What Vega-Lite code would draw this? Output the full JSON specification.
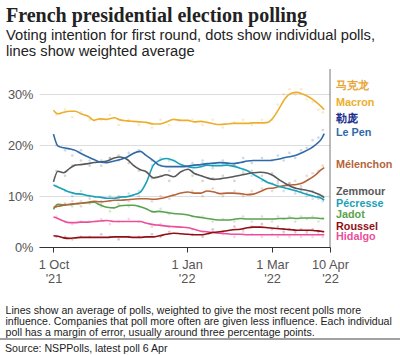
{
  "$schema": "https://vega.github.io/schema/vega-lite/v6.json",
  "width": 291,
  "height": 178,
  "autosize": {"type": "none"},
  "padding": {"left": 39, "top": 69, "right": 70, "bottom": 108},
  "background": "white",
  "title": {
    "text": "French presidential election polling",
    "subtitle": ["Voting intention for first round, dots show individual polls,", "lines show weighted average"],
    "anchor": "start",
    "frame": "group",
    "dx": -33,
    "offset": 10,
    "font": "Liberation Serif",
    "fontSize": 20,
    "fontWeight": "bold",
    "color": "#222222",
    "subtitleFont": "Liberation Sans",
    "subtitleFontSize": 14.7,
    "subtitleColor": "#222222",
    "subtitleLineHeight": 15.5,
    "subtitlePadding": 2
  },
  "datasets": {
    "avg": [
      {"d": "2021-10-01", "Macron": 26.9, "Le Pen": 22.2, "Zemmour": 12.8, "Pécresse": 12.2, "Mélenchon": 7.8, "Jadot": 7.4, "Roussel": 2.2, "Hidalgo": 5.9},
      {"d": "2021-10-04", "Macron": 26.2, "Le Pen": 19.9, "Zemmour": 14.9, "Pécresse": 11.8, "Mélenchon": 8.0, "Jadot": 8.4, "Roussel": 2.1, "Hidalgo": 5.6},
      {"d": "2021-10-08", "Macron": 26.5, "Le Pen": 19.5, "Zemmour": 14.6, "Pécresse": 11.3, "Mélenchon": 8.2, "Jadot": 8.3, "Roussel": 1.8, "Hidalgo": 5.1},
      {"d": "2021-10-12", "Macron": 26.7, "Le Pen": 19.3, "Zemmour": 15.4, "Pécresse": 10.8, "Mélenchon": 8.4, "Jadot": 8.3, "Roussel": 1.7, "Hidalgo": 4.8},
      {"d": "2021-10-16", "Macron": 26.7, "Le Pen": 19.0, "Zemmour": 16.1, "Pécresse": 10.5, "Mélenchon": 8.5, "Jadot": 8.5, "Roussel": 1.8, "Hidalgo": 4.8},
      {"d": "2021-10-20", "Macron": 26.2, "Le Pen": 18.4, "Zemmour": 16.2, "Pécresse": 10.4, "Mélenchon": 8.6, "Jadot": 8.6, "Roussel": 1.9, "Hidalgo": 4.9},
      {"d": "2021-10-25", "Macron": 25.7, "Le Pen": 17.7, "Zemmour": 16.4, "Pécresse": 10.1, "Mélenchon": 8.8, "Jadot": 8.7, "Roussel": 1.9, "Hidalgo": 4.9},
      {"d": "2021-10-29", "Macron": 24.9, "Le Pen": 17.2, "Zemmour": 16.6, "Pécresse": 9.9, "Mélenchon": 9.0, "Jadot": 8.8, "Roussel": 1.9, "Hidalgo": 5.0},
      {"d": "2021-11-02", "Macron": 25.2, "Le Pen": 16.7, "Zemmour": 16.7, "Pécresse": 9.8, "Mélenchon": 8.9, "Jadot": 8.3, "Roussel": 1.9, "Hidalgo": 5.1},
      {"d": "2021-11-07", "Macron": 25.1, "Le Pen": 16.6, "Zemmour": 16.9, "Pécresse": 9.6, "Mélenchon": 9.0, "Jadot": 7.8, "Roussel": 1.9, "Hidalgo": 5.2},
      {"d": "2021-11-12", "Macron": 25.4, "Le Pen": 16.9, "Zemmour": 17.5, "Pécresse": 9.6, "Mélenchon": 9.2, "Jadot": 7.7, "Roussel": 2.0, "Hidalgo": 5.0},
      {"d": "2021-11-16", "Macron": 25.0, "Le Pen": 17.2, "Zemmour": 17.7, "Pécresse": 9.8, "Mélenchon": 9.2, "Jadot": 8.1, "Roussel": 2.0, "Hidalgo": 5.0},
      {"d": "2021-11-21", "Macron": 24.8, "Le Pen": 17.7, "Zemmour": 17.2, "Pécresse": 9.9, "Mélenchon": 9.3, "Jadot": 8.2, "Roussel": 2.0, "Hidalgo": 5.0},
      {"d": "2021-11-25", "Macron": 24.7, "Le Pen": 18.4, "Zemmour": 16.1, "Pécresse": 10.2, "Mélenchon": 9.4, "Jadot": 8.2, "Roussel": 1.9, "Hidalgo": 5.0},
      {"d": "2021-11-30", "Macron": 24.6, "Le Pen": 18.8, "Zemmour": 15.2, "Pécresse": 10.8, "Mélenchon": 9.5, "Jadot": 7.9, "Roussel": 1.9, "Hidalgo": 5.0},
      {"d": "2021-12-04", "Macron": 24.5, "Le Pen": 18.0, "Zemmour": 14.8, "Pécresse": 12.6, "Mélenchon": 9.5, "Jadot": 7.5, "Roussel": 2.0, "Hidalgo": 4.7},
      {"d": "2021-12-09", "Macron": 24.2, "Le Pen": 17.0, "Zemmour": 13.6, "Pécresse": 16.1, "Mélenchon": 9.4, "Jadot": 6.9, "Roussel": 2.0, "Hidalgo": 4.4},
      {"d": "2021-12-13", "Macron": 24.2, "Le Pen": 16.1, "Zemmour": 13.8, "Pécresse": 17.0, "Mélenchon": 9.5, "Jadot": 7.0, "Roussel": 2.2, "Hidalgo": 4.3},
      {"d": "2021-12-18", "Macron": 24.6, "Le Pen": 15.8, "Zemmour": 14.2, "Pécresse": 17.4, "Mélenchon": 9.8, "Jadot": 6.8, "Roussel": 2.5, "Hidalgo": 4.1},
      {"d": "2021-12-23", "Macron": 25.1, "Le Pen": 15.8, "Zemmour": 13.8, "Pécresse": 17.0, "Mélenchon": 10.2, "Jadot": 6.6, "Roussel": 2.7, "Hidalgo": 4.0},
      {"d": "2021-12-28", "Macron": 24.9, "Le Pen": 15.8, "Zemmour": 14.8, "Pécresse": 16.2, "Mélenchon": 10.6, "Jadot": 6.5, "Roussel": 2.6, "Hidalgo": 3.9},
      {"d": "2022-01-02", "Macron": 24.9, "Le Pen": 15.9, "Zemmour": 15.3, "Pécresse": 15.8, "Mélenchon": 10.8, "Jadot": 6.3, "Roussel": 2.5, "Hidalgo": 3.8},
      {"d": "2022-01-06", "Macron": 24.6, "Le Pen": 16.1, "Zemmour": 14.5, "Pécresse": 15.6, "Mélenchon": 10.6, "Jadot": 6.0, "Roussel": 2.4, "Hidalgo": 3.5},
      {"d": "2022-01-11", "Macron": 24.7, "Le Pen": 16.2, "Zemmour": 14.0, "Pécresse": 15.8, "Mélenchon": 10.6, "Jadot": 5.8, "Roussel": 2.4, "Hidalgo": 3.1},
      {"d": "2022-01-15", "Macron": 24.5, "Le Pen": 16.4, "Zemmour": 13.6, "Pécresse": 16.1, "Mélenchon": 11.0, "Jadot": 5.6, "Roussel": 2.6, "Hidalgo": 3.0},
      {"d": "2022-01-20", "Macron": 24.2, "Le Pen": 16.5, "Zemmour": 13.3, "Pécresse": 16.0, "Mélenchon": 10.8, "Jadot": 5.4, "Roussel": 2.9, "Hidalgo": 2.8},
      {"d": "2022-01-24", "Macron": 24.1, "Le Pen": 16.6, "Zemmour": 13.4, "Pécresse": 16.0, "Mélenchon": 10.5, "Jadot": 5.3, "Roussel": 3.0, "Hidalgo": 2.7},
      {"d": "2022-01-29", "Macron": 24.2, "Le Pen": 16.5, "Zemmour": 13.6, "Pécresse": 16.1, "Mélenchon": 10.6, "Jadot": 5.3, "Roussel": 3.2, "Hidalgo": 2.6},
      {"d": "2022-02-02", "Macron": 24.3, "Le Pen": 16.4, "Zemmour": 13.8, "Pécresse": 15.9, "Mélenchon": 10.6, "Jadot": 5.4, "Roussel": 3.4, "Hidalgo": 2.5},
      {"d": "2022-02-07", "Macron": 24.3, "Le Pen": 16.6, "Zemmour": 14.1, "Pécresse": 15.5, "Mélenchon": 10.5, "Jadot": 5.6, "Roussel": 3.5, "Hidalgo": 2.5},
      {"d": "2022-02-12", "Macron": 24.3, "Le Pen": 16.9, "Zemmour": 14.4, "Pécresse": 15.0, "Mélenchon": 10.3, "Jadot": 5.5, "Roussel": 3.8, "Hidalgo": 2.4},
      {"d": "2022-02-16", "Macron": 24.4, "Le Pen": 17.0, "Zemmour": 14.6, "Pécresse": 14.3, "Mélenchon": 10.4, "Jadot": 5.5, "Roussel": 3.9, "Hidalgo": 2.4},
      {"d": "2022-02-21", "Macron": 24.4, "Le Pen": 17.0, "Zemmour": 14.7, "Pécresse": 13.5, "Mélenchon": 10.9, "Jadot": 5.5, "Roussel": 3.9, "Hidalgo": 2.4},
      {"d": "2022-02-26", "Macron": 24.5, "Le Pen": 17.0, "Zemmour": 14.5, "Pécresse": 12.7, "Mélenchon": 11.5, "Jadot": 5.5, "Roussel": 3.8, "Hidalgo": 2.4},
      {"d": "2022-03-02", "Macron": 25.5, "Le Pen": 17.1, "Zemmour": 14.0, "Pécresse": 12.3, "Mélenchon": 11.6, "Jadot": 5.5, "Roussel": 3.7, "Hidalgo": 2.4},
      {"d": "2022-03-06", "Macron": 27.3, "Le Pen": 17.3, "Zemmour": 13.2, "Pécresse": 11.9, "Mélenchon": 11.9, "Jadot": 5.6, "Roussel": 3.6, "Hidalgo": 2.4},
      {"d": "2022-03-10", "Macron": 29.2, "Le Pen": 17.6, "Zemmour": 12.5, "Pécresse": 11.6, "Mélenchon": 12.1, "Jadot": 5.6, "Roussel": 3.5, "Hidalgo": 2.4},
      {"d": "2022-03-14", "Macron": 30.2, "Le Pen": 17.8, "Zemmour": 11.9, "Pécresse": 11.3, "Mélenchon": 12.2, "Jadot": 5.7, "Roussel": 3.4, "Hidalgo": 2.4},
      {"d": "2022-03-18", "Macron": 30.4, "Le Pen": 18.1, "Zemmour": 11.5, "Pécresse": 11.0, "Mélenchon": 12.3, "Jadot": 5.6, "Roussel": 3.3, "Hidalgo": 2.4},
      {"d": "2022-03-22", "Macron": 30.1, "Le Pen": 18.6, "Zemmour": 11.3, "Pécresse": 10.6, "Mélenchon": 12.6, "Jadot": 5.7, "Roussel": 3.3, "Hidalgo": 2.4},
      {"d": "2022-03-27", "Macron": 29.4, "Le Pen": 19.3, "Zemmour": 11.0, "Pécresse": 10.2, "Mélenchon": 13.4, "Jadot": 5.7, "Roussel": 3.3, "Hidalgo": 2.4},
      {"d": "2022-03-31", "Macron": 28.6, "Le Pen": 20.1, "Zemmour": 10.6, "Pécresse": 9.9, "Mélenchon": 14.2, "Jadot": 5.7, "Roussel": 3.2, "Hidalgo": 2.4},
      {"d": "2022-04-04", "Macron": 27.6, "Le Pen": 21.2, "Zemmour": 10.1, "Pécresse": 9.6, "Mélenchon": 15.2, "Jadot": 5.6, "Roussel": 3.1, "Hidalgo": 2.4},
      {"d": "2022-04-06", "Macron": 27.0, "Le Pen": 22.3, "Zemmour": 9.7, "Pécresse": 9.2, "Mélenchon": 15.6, "Jadot": 5.6, "Roussel": 3.0, "Hidalgo": 2.4}
    ],
    "polls": [
      {"d": "2021-10-03", "Macron": 26, "Le Pen": 20, "Zemmour": 15, "Pécresse": 12, "Mélenchon": 8, "Jadot": 8, "Roussel": 2, "Hidalgo": 6},
      {"d": "2021-10-09", "Macron": 27, "Le Pen": 19, "Zemmour": 14, "Pécresse": 11, "Mélenchon": 8.5, "Jadot": 8.5, "Roussel": 2, "Hidalgo": 5},
      {"d": "2021-10-14", "Macron": 25.5, "Le Pen": 18, "Zemmour": 16, "Pécresse": 10, "Mélenchon": 9, "Jadot": 8, "Roussel": 1.5, "Hidalgo": 4.5},
      {"d": "2021-10-20", "Macron": 26.5, "Le Pen": 19, "Zemmour": 17, "Pécresse": 11, "Mélenchon": 8, "Jadot": 9, "Roussel": 2, "Hidalgo": 5},
      {"d": "2021-10-26", "Macron": 25, "Le Pen": 17, "Zemmour": 16, "Pécresse": 10, "Mélenchon": 9.5, "Jadot": 8.5, "Roussel": 2, "Hidalgo": 5},
      {"d": "2021-11-03", "Macron": 25, "Le Pen": 16, "Zemmour": 17, "Pécresse": 9, "Mélenchon": 8.5, "Jadot": 8, "Roussel": 2.5, "Hidalgo": 5.5},
      {"d": "2021-11-09", "Macron": 26, "Le Pen": 17.5, "Zemmour": 17.5, "Pécresse": 10, "Mélenchon": 9, "Jadot": 7, "Roussel": 2, "Hidalgo": 4.5},
      {"d": "2021-11-15", "Macron": 24, "Le Pen": 17, "Zemmour": 18, "Pécresse": 9.5, "Mélenchon": 10, "Jadot": 8.5, "Roussel": 1.5, "Hidalgo": 5},
      {"d": "2021-11-22", "Macron": 25, "Le Pen": 18.5, "Zemmour": 16.5, "Pécresse": 10.5, "Mélenchon": 9, "Jadot": 8, "Roussel": 2, "Hidalgo": 5.5},
      {"d": "2021-11-29", "Macron": 24, "Le Pen": 19, "Zemmour": 15, "Pécresse": 11, "Mélenchon": 10, "Jadot": 8, "Roussel": 2, "Hidalgo": 5},
      {"d": "2021-12-08", "Macron": 23.5, "Le Pen": 17, "Zemmour": 13.5, "Pécresse": 16, "Mélenchon": 9, "Jadot": 7, "Roussel": 2.5, "Hidalgo": 4},
      {"d": "2021-12-14", "Macron": 25, "Le Pen": 16, "Zemmour": 14, "Pécresse": 17.5, "Mélenchon": 10, "Jadot": 7.5, "Roussel": 2, "Hidalgo": 4.5},
      {"d": "2021-12-20", "Macron": 24, "Le Pen": 15, "Zemmour": 13, "Pécresse": 17, "Mélenchon": 9.5, "Jadot": 6.5, "Roussel": 3, "Hidalgo": 4},
      {"d": "2022-01-05", "Macron": 25, "Le Pen": 16.5, "Zemmour": 14, "Pécresse": 15, "Mélenchon": 11, "Jadot": 6, "Roussel": 2.5, "Hidalgo": 3.5},
      {"d": "2022-01-12", "Macron": 24, "Le Pen": 17, "Zemmour": 13, "Pécresse": 16.5, "Mélenchon": 10, "Jadot": 6, "Roussel": 2, "Hidalgo": 3},
      {"d": "2022-01-19", "Macron": 25, "Le Pen": 16, "Zemmour": 13.5, "Pécresse": 15.5, "Mélenchon": 11.5, "Jadot": 5, "Roussel": 3.5, "Hidalgo": 3},
      {"d": "2022-01-26", "Macron": 23.5, "Le Pen": 17, "Zemmour": 14, "Pécresse": 16.5, "Mélenchon": 10, "Jadot": 5.5, "Roussel": 3, "Hidalgo": 2.5},
      {"d": "2022-02-03", "Macron": 24.5, "Le Pen": 16, "Zemmour": 13, "Pécresse": 16, "Mélenchon": 11, "Jadot": 5, "Roussel": 4, "Hidalgo": 2},
      {"d": "2022-02-09", "Macron": 25, "Le Pen": 17.5, "Zemmour": 14.5, "Pécresse": 15, "Mélenchon": 10, "Jadot": 6, "Roussel": 3.5, "Hidalgo": 3},
      {"d": "2022-02-15", "Macron": 24, "Le Pen": 16.5, "Zemmour": 15, "Pécresse": 14, "Mélenchon": 11, "Jadot": 5, "Roussel": 4, "Hidalgo": 2.5},
      {"d": "2022-02-22", "Macron": 25, "Le Pen": 17.5, "Zemmour": 14, "Pécresse": 13, "Mélenchon": 11.5, "Jadot": 6, "Roussel": 4.5, "Hidalgo": 2},
      {"d": "2022-03-01", "Macron": 25, "Le Pen": 17, "Zemmour": 14.5, "Pécresse": 12.5, "Mélenchon": 11, "Jadot": 5, "Roussel": 3.5, "Hidalgo": 2.5},
      {"d": "2022-03-05", "Macron": 28, "Le Pen": 18, "Zemmour": 13, "Pécresse": 12, "Mélenchon": 12.5, "Jadot": 6, "Roussel": 4, "Hidalgo": 2},
      {"d": "2022-03-09", "Macron": 30, "Le Pen": 17, "Zemmour": 12, "Pécresse": 11, "Mélenchon": 12, "Jadot": 5.5, "Roussel": 3, "Hidalgo": 2.5},
      {"d": "2022-03-13", "Macron": 31, "Le Pen": 18.5, "Zemmour": 12.5, "Pécresse": 11.5, "Mélenchon": 12.5, "Jadot": 6, "Roussel": 3.5, "Hidalgo": 2},
      {"d": "2022-03-17", "Macron": 30, "Le Pen": 17.5, "Zemmour": 11, "Pécresse": 10.5, "Mélenchon": 13, "Jadot": 5, "Roussel": 3, "Hidalgo": 2.5},
      {"d": "2022-03-21", "Macron": 31, "Le Pen": 19, "Zemmour": 11.5, "Pécresse": 11, "Mélenchon": 12, "Jadot": 6, "Roussel": 3.5, "Hidalgo": 2},
      {"d": "2022-03-25", "Macron": 29, "Le Pen": 19.5, "Zemmour": 10.5, "Pécresse": 10, "Mélenchon": 14, "Jadot": 5.5, "Roussel": 3, "Hidalgo": 2.5},
      {"d": "2022-03-29", "Macron": 28.5, "Le Pen": 21, "Zemmour": 11, "Pécresse": 9.5, "Mélenchon": 14.5, "Jadot": 6, "Roussel": 3.5, "Hidalgo": 2},
      {"d": "2022-04-02", "Macron": 27, "Le Pen": 21.5, "Zemmour": 9.5, "Pécresse": 10, "Mélenchon": 15, "Jadot": 5, "Roussel": 3, "Hidalgo": 2.5},
      {"d": "2022-04-05", "Macron": 26.5, "Le Pen": 23, "Zemmour": 10, "Pécresse": 9, "Mélenchon": 16, "Jadot": 5.5, "Roussel": 3, "Hidalgo": 2}
    ],
    "labels": [
      {"key": "马克龙", "label": "马克龙", "ly": 31.7},
      {"key": "Macron", "label": "Macron", "ly": 28.4},
      {"key": "勒庞", "label": "勒庞", "ly": 25.1},
      {"key": "Le Pen", "label": "Le Pen", "ly": 22.5},
      {"key": "Mélenchon", "label": "Mélenchon", "ly": 16.2},
      {"key": "Zemmour", "label": "Zemmour", "ly": 10.9},
      {"key": "Pécresse", "label": "Pécresse", "ly": 8.5},
      {"key": "Jadot", "label": "Jadot", "ly": 6.2},
      {"key": "Roussel", "label": "Roussel", "ly": 4.0},
      {"key": "Hidalgo", "label": "Hidalgo", "ly": 1.9}
    ]
  },
  "layer": [
    {
      "data": {"name": "polls"},
      "transform": [
        {"fold": ["Hidalgo", "Roussel", "Jadot", "Mélenchon", "Pécresse", "Zemmour", "Le Pen", "Macron"]}
      ],
      "mark": {"type": "circle", "size": 7, "opacity": 0.25},
      "encoding": {
        "x": {"field": "d", "type": "temporal"},
        "y": {"field": "value", "type": "quantitative"},
        "color": {"field": "key", "type": "nominal"}
      }
    },
    {
      "data": {"name": "avg"},
      "transform": [
        {"fold": ["Hidalgo", "Roussel", "Jadot", "Mélenchon", "Pécresse", "Zemmour", "Le Pen", "Macron"]}
      ],
      "mark": {"type": "line", "strokeWidth": 1.6, "interpolate": "monotone"},
      "encoding": {
        "x": {
          "field": "d",
          "type": "temporal",
          "scale": {
            "type": "utc",
            "domain": [
              {"year": 2021, "month": 9, "date": 21, "utc": true},
              {"year": 2022, "month": 4, "date": 10, "utc": true}
            ]
          },
          "axis": {
            "values": [
              {"year": 2021, "month": 10, "date": 1, "utc": true},
              {"year": 2022, "month": 1, "date": 1, "utc": true},
              {"year": 2022, "month": 3, "date": 1, "utc": true},
              {"year": 2022, "month": 4, "date": 10, "utc": true}
            ],
            "labelExpr": "[utcFormat(datum.value, '%-d %b'), utcFormat(datum.value, \"'%y\")]",
            "labelFont": "Liberation Sans",
            "labelFontSize": 12.8,
            "labelColor": "#555555",
            "labelLineHeight": 14,
            "labelPadding": 6,
            "labelFlush": false,
            "labelOverlap": false,
            "grid": false,
            "domainColor": "#333333",
            "domainWidth": 1,
            "tickColor": "#333333",
            "tickSize": 5,
            "title": [
              "Lines show an average of polls, weighted to give the most recent polls more",
              "influence. Companies that poll more often are given less influence. Each individual",
              "poll has a margin of error, usually around three percentage points."
            ],
            "titleFont": "Liberation Sans",
            "titleFontSize": 10.6,
            "titleFontWeight": "normal",
            "titleColor": "#222222",
            "titleLineHeight": 11,
            "titleAlign": "left",
            "titleBaseline": "alphabetic",
            "titleX": -34,
            "titleY": 66
          }
        },
        "y": {
          "field": "value",
          "type": "quantitative",
          "scale": {"domain": [0, 35], "nice": false},
          "axis": {
            "values": [0, 10, 20, 30],
            "labelExpr": "datum.value + '%'",
            "labelFont": "Liberation Sans",
            "labelFontSize": 12.8,
            "labelColor": "#555555",
            "labelPadding": 6,
            "domain": false,
            "ticks": false,
            "gridColor": "#dddddd",
            "gridWidth": 1,
            "title": null
          }
        },
        "color": {
          "field": "key",
          "type": "nominal",
          "scale": {
            "domain": ["Macron", "Le Pen", "Zemmour", "Pécresse", "Mélenchon", "Jadot", "Roussel", "Hidalgo", "马克龙", "勒庞"],
            "range": ["#ecae2c", "#2f69a8", "#595959", "#1aa0b8", "#b5643a", "#5aa24e", "#8f0f14", "#eb4f9a", "#eaa536", "#1a2f8f"]
          },
          "legend": null
        }
      }
    },
    {
      "data": {"values": [{}]},
      "mark": {"type": "rule", "color": "#777777", "strokeWidth": 1},
      "encoding": {
        "x": {"datum": {"year": 2022, "month": 4, "date": 10, "utc": true}, "type": "temporal"}
      }
    },
    {
      "data": {"name": "labels"},
      "mark": {"type": "text", "align": "left", "baseline": "middle", "dx": 6, "font": "Liberation Sans", "fontSize": 10.8, "fontWeight": "bold"},
      "encoding": {
        "x": {"datum": {"year": 2022, "month": 4, "date": 10, "utc": true}, "type": "temporal"},
        "y": {"field": "ly", "type": "quantitative"},
        "text": {"field": "label"},
        "color": {"field": "key", "type": "nominal"}
      }
    },
    {
      "data": {"values": [{}]},
      "mark": {"type": "rule", "color": "#444444", "strokeWidth": 1},
      "encoding": {
        "x": {"value": -39},
        "x2": {"value": 361},
        "y": {"value": 270}
      }
    },
    {
      "data": {"values": [{"source": "Source: NSPPolls, latest poll  6 Apr"}]},
      "mark": {"type": "text", "align": "left", "baseline": "middle", "font": "Liberation Sans", "fontSize": 10.6, "color": "#222222"},
      "encoding": {
        "x": {"value": -34},
        "y": {"value": 280},
        "text": {"field": "source"}
      }
    }
  ],
  "config": {
    "view": {"stroke": null},
    "font": "Liberation Sans"
  }
}
